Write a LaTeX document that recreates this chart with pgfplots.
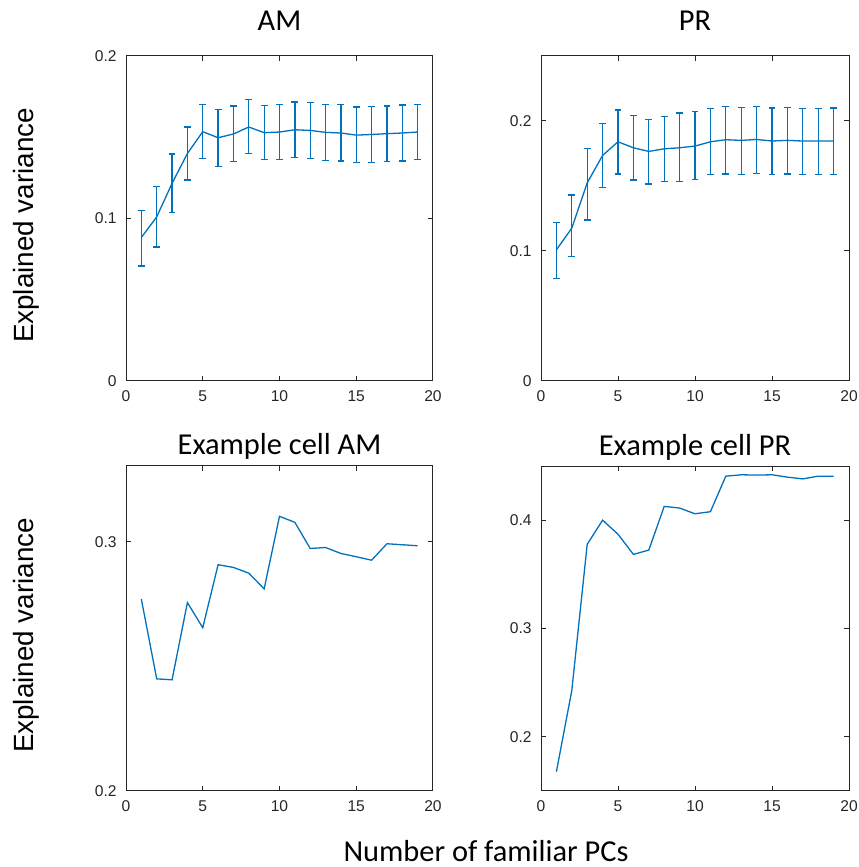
\documentclass[border=0pt]{standalone}
\usepackage{pgfplots}
\pgfplotsset{compat=1.18}
\usepackage{pgfplotstable}
\usepackage{fontspec}
\setmainfont{Liberation Sans}
\newfontfamily\calibri{Carlito}
\definecolor{mblue}{RGB}{0,114,189}
\definecolor{mgray}{RGB}{38,38,38}

\pgfplotstableread{
x y ep em
1 0.0883 0.0166 0.0175
2 0.1010 0.0187 0.0185
3 0.1216 0.0180 0.0181
4 0.1400 0.0163 0.0164
5 0.1534 0.0168 0.0164
6 0.1497 0.0174 0.0177
7 0.1520 0.0172 0.0171
8 0.1563 0.0168 0.0163
9 0.1528 0.0166 0.0167
10 0.1532 0.0170 0.0169
11 0.1546 0.0171 0.0170
12 0.1542 0.0173 0.0174
13 0.1530 0.0170 0.0173
14 0.1526 0.0174 0.0173
15 0.1513 0.0173 0.0170
16 0.1517 0.0173 0.0172
17 0.1522 0.0170 0.0171
18 0.1526 0.0172 0.0173
19 0.1532 0.0170 0.0171
}\tabAM

\pgfplotstableread{
x y ep em
1 0.1009 0.0209 0.0221
2 0.1176 0.0255 0.0221
3 0.1524 0.0262 0.0286
4 0.1735 0.0244 0.0247
5 0.1840 0.0245 0.0247
6 0.1794 0.0250 0.0247
7 0.1766 0.0247 0.0250
8 0.1786 0.0247 0.0249
9 0.1794 0.0268 0.0257
10 0.1807 0.0265 0.0257
11 0.1840 0.0255 0.0254
12 0.1856 0.0257 0.0263
13 0.1851 0.0255 0.0260
14 0.1858 0.0253 0.0262
15 0.1846 0.0254 0.0260
16 0.1851 0.0252 0.0258
17 0.1846 0.0249 0.0258
18 0.1846 0.0252 0.0258
19 0.1846 0.0254 0.0255
}\tabPR

\pgfplotstableread{
x y
1 0.2770
2 0.2450
3 0.2446
4 0.2756
5 0.2655
6 0.2908
7 0.2897
8 0.2874
9 0.2811
10 0.3102
11 0.3078
12 0.2973
13 0.2977
14 0.2953
15 0.2940
16 0.2926
17 0.2992
18 0.2988
19 0.2984
}\tabCAM

\pgfplotstableread{
x y
1 0.1678
2 0.2428
3 0.3777
4 0.4000
5 0.3870
6 0.3684
7 0.3724
8 0.4127
9 0.4112
10 0.4059
11 0.4078
12 0.4406
13 0.4419
14 0.4416
15 0.4419
16 0.4397
17 0.4381
18 0.4406
19 0.4406
}\tabCPR

\pgfplotsset{
  every axis title shift=0pt,
  mstyle/.style={
    scale only axis,
    width=153.5pt, height=162.5pt,
    anchor=south west,
    xmin=0, xmax=20,
    xtick={0,5,10,15,20},
    axis line style={mgray, line width=0.5pt},
    tick style={mgray, line width=0.5pt},
    major tick length=2.6pt,
    tick align=inside,
    xtick pos=both, ytick pos=both,
    ticklabel style={font=\fontsize{7.8pt}{9pt}\selectfont, text=mgray},
    /pgf/number format/assume math mode=true,
    xticklabel style={yshift=-1.5pt},
    yticklabel style={xshift=-1.2pt},
    title style={anchor=base, font=\calibri\fontsize{15.2pt}{18pt}\selectfont},
  },
  mline/.style={mblue, line width=0.65pt, mark=none},
}

\begin{document}
\begin{tikzpicture}
\useasboundingbox (0,0) rectangle (429pt,433.5pt);

\begin{axis}[mstyle, at={(63pt,243pt)},
  ymin=0, ymax=0.2, ytick={0,0.1,0.2},
  yticklabels={0,0.1,0.2},
  title={AM}, title style={yshift=12.5pt}]
\addplot[mline, error bars/.cd, y dir=both, y explicit,
  error bar style={mblue, line width=0.65pt},
  error mark options={mblue, line width=0.65pt, mark size=1.7pt, rotate=90}]
  table[x=x, y=y, y error plus=ep, y error minus=em] {\tabAM};
\end{axis}

\begin{axis}[mstyle, at={(270.5pt,243pt)}, width=154pt,
  ymin=0, ymax=0.25, ytick={0,0.1,0.2},
  yticklabels={0,0.1,0.2},
  title={PR}, title style={yshift=12.5pt}]
\addplot[mline, error bars/.cd, y dir=both, y explicit,
  error bar style={mblue, line width=0.65pt},
  error mark options={mblue, line width=0.65pt, mark size=1.7pt, rotate=90}]
  table[x=x, y=y, y error plus=ep, y error minus=em] {\tabPR};
\end{axis}

\begin{axis}[mstyle, at={(63pt,38pt)},
  ymin=0.2, ymax=0.3304, ytick={0.2,0.3},
  yticklabels={0.2,0.3},
  title={Example cell AM},
  title style={yshift=5.5pt}]
\addplot[mline] table[x=x, y=y] {\tabCAM};
\end{axis}

\begin{axis}[mstyle, at={(270.5pt,38pt)}, width=154pt,
  ymin=0.15, ymax=0.45, ytick={0.2,0.3,0.4},
  yticklabels={0.2,0.3,0.4},
  title={Example cell PR},
  title style={yshift=5.5pt}]
\addplot[mline] table[x=x, y=y] {\tabCPR};
\end{axis}

\node[rotate=90, anchor=base, font=\fontsize{13.9pt}{16pt}\selectfont] at (16.7pt,320.75pt) {Explained variance};
\node[rotate=90, anchor=base, font=\fontsize{13.9pt}{16pt}\selectfont] at (16.7pt,115.75pt) {Explained variance};
\node[anchor=base, font=\calibri\fontsize{15.2pt}{18pt}\selectfont] at (243pt,2.5pt) {Number of familiar PCs};
\end{tikzpicture}
\end{document}
